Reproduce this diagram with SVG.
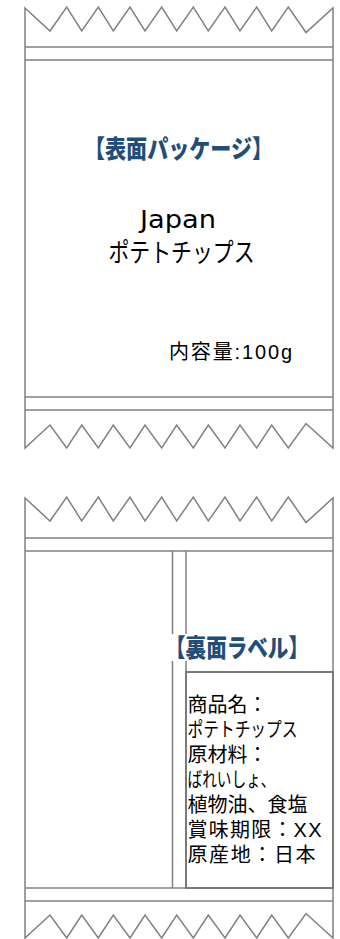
<svg xmlns="http://www.w3.org/2000/svg" width="340" height="939" viewBox="0 0 340 939">
  <style>
    .pkg { fill: #ffffff; stroke: #808080; stroke-width: 1.5; stroke-linejoin: miter; }
    .ln { stroke: #808080; stroke-width: 1.5; fill: none; }
    .box { fill: #ffffff; stroke: #7a7a7a; stroke-width: 2; }
    .title { font-family: "Noto Sans CJK JP", sans-serif; font-weight: 900; fill: #1F4E79; }
    .jp { font-family: "Liberation Sans", "Noto Sans CJK JP", sans-serif; fill: #000000; }
    .lat { font-family: "DejaVu Sans", sans-serif; fill: #000000; }
  </style>
  <defs>
    <path id="bag" d="M25,8 L50,31 L66.7,7 L81.7,31 L98.3,7 L113.3,31 L130,7 L145,31 L161.7,7 L176.7,31 L193.3,7 L208.3,31 L225,7 L240,31 L256.7,7 L271.7,31 L288.3,7 L306,32.5 L333,8 L333,448 L306,423.5 L288.3,448 L271.7,425 L256.7,448 L240,425 L225,448 L208.3,425 L193.3,448 L176.7,425 L161.7,448 L145,425 L130,448 L113.3,425 L98.3,448 L81.7,425 L66.7,448 L50,425 L25,448 Z"/>
  </defs>

  <g id="front-package">
    <use href="#bag" class="pkg"/>
    <line class="ln" x1="25" y1="47" x2="333" y2="47"/>
    <line class="ln" x1="25" y1="60" x2="333" y2="60"/>
    <line class="ln" x1="25" y1="397" x2="333" y2="397"/>
    <line class="ln" x1="25" y1="410" x2="333" y2="410"/>
  </g>

  <g id="front-title">
    <text class="title" x="84" y="157.5" font-size="25" textLength="189" lengthAdjust="spacingAndGlyphs">【表面パッケージ】</text>
  </g>

  <g id="front-product">
    <text class="lat" x="140" y="227.5" font-size="24" textLength="76" lengthAdjust="spacingAndGlyphs">Japan</text>
    <text class="jp" x="108.5" y="261.5" font-size="26" textLength="146" lengthAdjust="spacingAndGlyphs">ポテトチップス</text>
  </g>

  <g id="front-content">
    <text class="jp" x="169" y="359" font-size="20" textLength="123" lengthAdjust="spacing">内容量:100g</text>
  </g>

  <g id="back-package">
    <use href="#bag" class="pkg" transform="translate(0,490)"/>
    <line class="ln" x1="25" y1="538" x2="333" y2="538"/>
    <line class="ln" x1="25" y1="551" x2="333" y2="551"/>
    <line class="ln" x1="25" y1="888" x2="333" y2="888"/>
    <line class="ln" x1="25" y1="901" x2="333" y2="901"/>
    <line class="ln" x1="172.5" y1="551" x2="172.5" y2="888"/>
    <line class="ln" x1="186" y1="551" x2="186" y2="888"/>
  </g>

  <g id="back-label">
    <rect class="box" x="186" y="672" width="147" height="216"/>
    <text class="jp" font-size="20">
      <tspan x="187.5" y="712">商品名：</tspan>
      <tspan x="187.5" y="737" textLength="110" lengthAdjust="spacingAndGlyphs">ポテトチップス</tspan>
      <tspan x="187.5" y="762">原材料：</tspan>
      <tspan x="187.5" y="787" textLength="88" lengthAdjust="spacingAndGlyphs">ばれいしょ、</tspan>
      <tspan x="187.5" y="812">植物油、食塩</tspan>
      <tspan x="187.5" y="837" textLength="134" lengthAdjust="spacing">賞味期限：XX</tspan>
      <tspan x="187.5" y="862" textLength="128" lengthAdjust="spacing">原産地：日本</tspan>
    </text>
  </g>

  <g id="back-title">
    <rect x="163" y="634" width="148" height="27" fill="#ffffff"/>
    <text class="title" x="165" y="656.5" font-size="25" textLength="144" lengthAdjust="spacingAndGlyphs">【裏面ラベル】</text>
  </g>
</svg>
